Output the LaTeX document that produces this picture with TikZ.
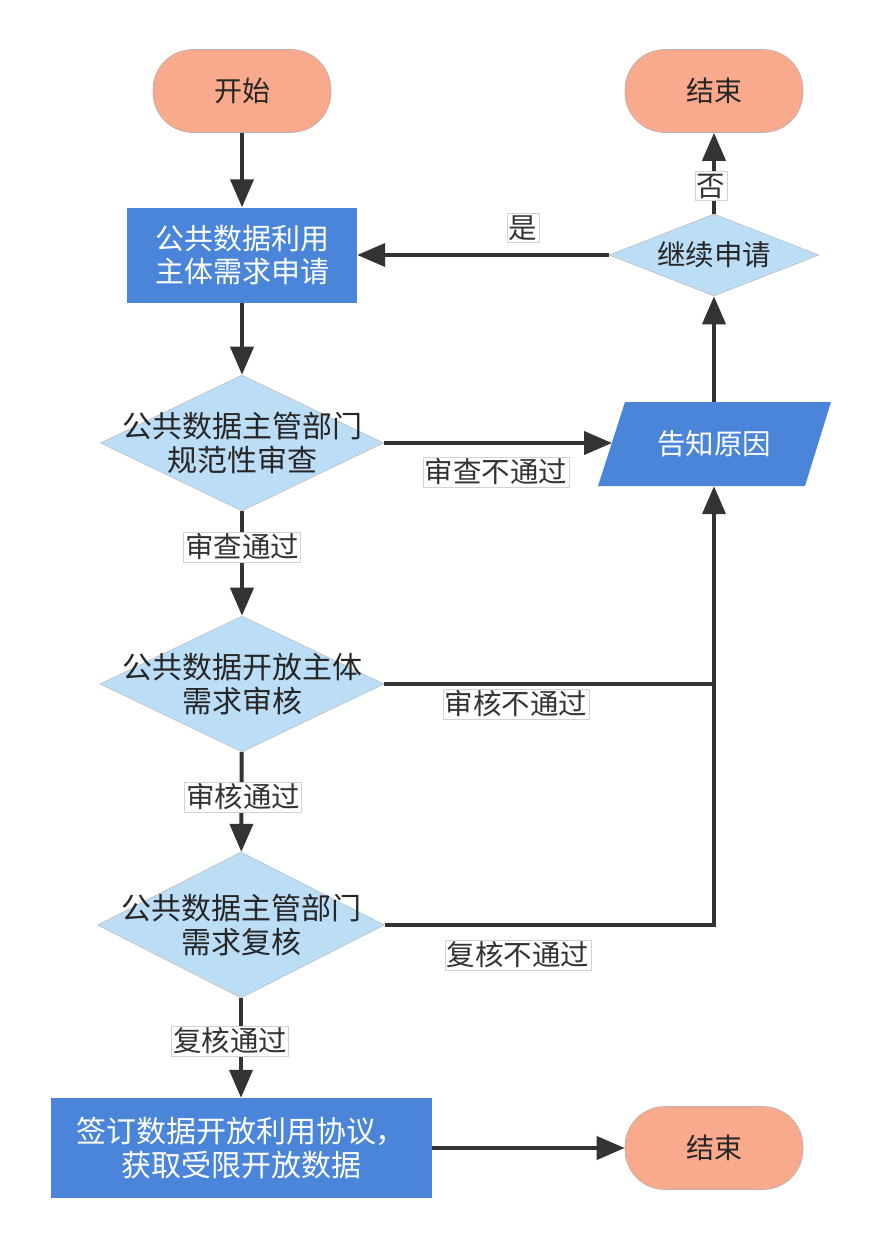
\documentclass[tikz,border=0pt]{standalone}
\usepackage{fontspec}
\newfontfamily\cjk{Noto Sans CJK SC}
\usetikzlibrary{arrows.meta,shapes.geometric}
\definecolor{pill}{HTML}{F9A98C}
\definecolor{boxblue}{HTML}{4A85DA}
\definecolor{dia}{HTML}{BCDDF6}
\definecolor{ln}{HTML}{333333}
\begin{document}
\begin{tikzpicture}[x=1pt,y=-1pt,
  pillnode/.style={draw=gray!60, line width=0.6pt, fill=pill, rounded corners=40pt, minimum width=178pt, minimum height=83pt, font=\cjk\fontsize{28}{33}\selectfont, text=black!85, inner sep=0pt},
  procnode/.style={fill=boxblue, draw=none, text=white, align=center, font=\cjk\fontsize{29}{33}\selectfont, inner sep=0pt},
  dianode/.style={diamond, fill=dia, draw=gray!50, line width=0.6pt, inner sep=0pt, aspect=2},
  dtext/.style={align=center, font=\cjk\fontsize{30}{34}\selectfont, text=black!85, inner sep=0pt},
  lbl/.style={fill=white, draw=gray!35, line width=0.5pt, font=\cjk\fontsize{28.5}{31}\selectfont, text=black!80, inner xsep=1.5pt, inner ysep=2pt},
  conn/.style={draw=ln, line width=4pt, -{Triangle[length=28pt,width=23pt]}},
  seg/.style={draw=ln, line width=4pt}
]
\useasboundingbox (0,0) rectangle (881,1248);
\fill[white] (0,0) rectangle (881,1248);

% nodes
\node[pillnode] (start) at (242,91) {开始};
\node[pillnode] (end1) at (714,91) {结束};
\node[procnode, minimum width=230pt, minimum height=95pt] (req) at (242,255) {公共数据利用\\主体需求申请};
\node[dianode, minimum width=210pt, minimum height=82pt, label={[dtext,font=\cjk\fontsize{28.5}{33}\selectfont]center:继续申请}] (cont) at (714,255) {};
\node[dianode, minimum width=283pt, minimum height=136pt, label={[dtext]center:公共数据主管部门\\规范性审查}] (d1) at (242,443) {};
\node[inner sep=0pt, minimum width=206pt, minimum height=84pt] (tell) at (714,444) {};
\fill[boxblue] (625,402) -- (831,402) -- (805,486) -- (598,486) -- cycle;
\node[text=white, font=\cjk\fontsize{28.5}{33}\selectfont] at (tell.center) {告知原因};
\node[dianode, minimum width=284pt, minimum height=136pt, label={[dtext]center:公共数据开放主体\\需求审核}] (d2) at (242,684) {};
\node[dianode, minimum width=287pt, minimum height=146pt, label={[dtext]center:公共数据主管部门\\需求复核}] (d3) at (241,925) {};
\node[procnode, minimum width=381pt, minimum height=100pt, font=\cjk\fontsize{30}{34}\selectfont] (sign) at (241,1148) {签订数据开放利用协议，\\获取受限开放数据};
\node[pillnode] (end2) at (714,1148) {结束};

% connectors
\draw[conn] (start) -- (req);
\draw[conn] (req) -- (d1);
\draw[conn] (d1) -- (d2);
\draw[conn] (d2) -- (d3);
\draw[conn] (d3.south) -- (d3.south |- sign.north);
\draw[conn] (sign) -- (end2);
\draw[conn] (d1.east) -- (612,443);
\coordinate (j2) at (714,684);
\coordinate (j3) at (714,925);
\draw[seg] (d2.east) -- (j2);
\draw[conn] (d3.east) -- (j3) -- (tell.south);
\draw[conn] (tell.north) -- (cont.south);
\draw[conn] (cont.west) -- (req.east);
\draw[conn] (cont.north) -- (end1.south);

% labels
\node[lbl] at (523,228) {是};
\node[lbl] at (711,186) {否};
\node[lbl] at (496,472) {审查不通过};
\node[lbl] at (242,547) {审查通过};
\node[lbl] at (516,704) {审核不通过};
\node[lbl] at (243,797) {审核通过};
\node[lbl] at (518,955) {复核不通过};
\node[lbl] at (230,1041) {复核通过};
\end{tikzpicture}
\end{document}
